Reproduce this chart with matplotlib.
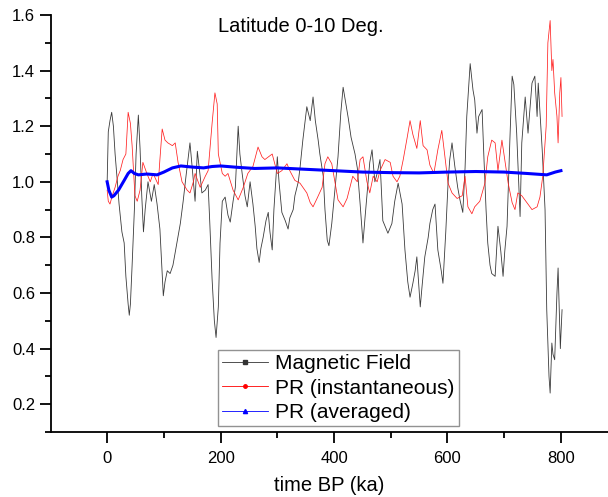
import matplotlib
matplotlib.use('Agg')
import matplotlib.pyplot as plt
from matplotlib.ticker import MultipleLocator
from matplotlib.lines import Line2D

plt.rcParams['font.family'] = ['Liberation Sans', 'DejaVu Sans']

# magnetic field
mf_t = [0, 2, 5, 8, 11, 14, 18, 21, 26, 30, 33, 37, 39, 41, 44, 48, 51, 55, 58, 61,
        64, 67, 72, 78, 83, 88, 93, 99, 102, 106, 111, 116, 123, 129, 134, 139, 146, 150, 155, 159,
        164, 167, 173, 178, 181, 185, 189, 192, 196, 199, 203, 208, 213, 217, 222, 226, 231, 234, 238, 243,
        247, 252, 257, 261, 264, 268, 271, 275, 280, 284, 287, 291, 294, 300, 303, 308, 314, 319, 322, 328,
        331, 337, 340, 345, 352, 358, 363, 367, 372, 375, 381, 384, 388, 391, 396, 402, 407, 412, 416, 421,
        425, 430, 434, 437, 441, 446, 451, 455, 460, 463, 467, 472, 476, 481, 486, 490, 495, 502, 507, 513,
        520, 525, 530, 534, 539, 543, 546, 552, 555, 560, 566, 569, 574, 578, 583, 589, 592, 597, 601, 604,
        608, 613, 618, 622, 627, 631, 634, 640, 645, 648, 652, 655, 661, 664, 668, 671, 675, 678, 684, 689,
        694, 698, 701, 705, 710, 714, 717, 722, 728, 731, 737, 742, 749, 754, 758, 760, 763, 767, 772, 775,
        779, 781, 784, 786, 789, 793, 795, 797, 799, 800, 802]
mf_v = [1.0, 1.18, 1.22, 1.25, 1.20, 1.10, 1.0, 0.92, 0.82, 0.78, 0.66, 0.56, 0.52, 0.56, 0.70, 0.90, 1.10, 1.24, 1.12, 0.95,
        0.82, 0.90, 1.00, 0.93, 0.99, 0.92, 0.83, 0.59, 0.64, 0.68, 0.67, 0.70, 0.78, 0.85, 0.93, 1.02, 1.14, 1.05, 0.93, 1.11,
        1.02, 0.96, 0.97, 0.99, 0.85, 0.65, 0.50, 0.44, 0.55, 0.78, 0.93, 0.945, 0.88, 0.855, 0.93, 0.98, 1.20, 1.10, 1.03, 0.95,
        0.91, 1.0, 0.92, 0.84, 0.76, 0.71, 0.76, 0.80, 0.86, 0.89, 0.82, 0.755, 0.90, 1.09, 1.0, 0.89, 0.86, 0.83, 0.87, 0.90,
        0.95, 1.00, 1.05, 1.15, 1.27, 1.22, 1.305, 1.22, 1.15, 1.10, 1.02, 0.90, 0.79, 0.77, 0.85, 0.98, 1.09, 1.25, 1.34, 1.28,
        1.23, 1.16, 1.125, 1.10, 1.05, 0.92, 0.78, 0.88, 1.0, 1.07, 1.115, 1.0, 1.03, 1.08, 0.86, 0.84, 0.815, 0.85, 0.93, 0.995,
        0.92, 0.755, 0.64, 0.585, 0.635, 0.68, 0.73, 0.55, 0.62, 0.73, 0.80, 0.85, 0.90, 0.92, 0.755, 0.68, 0.635, 0.82, 0.995, 1.08,
        1.14, 1.055, 0.98, 0.935, 0.89, 1.05, 1.235, 1.425, 1.33, 1.295, 1.175, 1.235, 1.26, 1.10, 0.90, 0.78, 0.70, 0.67, 0.66, 0.84,
        0.75, 0.66, 0.75, 0.84, 1.15, 1.38, 1.35, 1.175, 0.875, 1.14, 1.305, 1.175, 1.355, 1.38, 1.235, 1.355, 1.25, 1.115, 0.90, 0.54,
        0.30, 0.24, 0.42, 0.38, 0.36, 0.60, 0.69, 0.55, 0.40, 0.45, 0.54]

# PR instantaneous
pr_t = [0, 2, 5, 9, 14, 19, 23, 28, 33, 37, 41, 44, 49, 53, 58, 63, 70, 76, 81, 90,
        93, 97, 102, 107, 115, 120, 125, 132, 141, 146, 152, 155, 164, 173, 178, 185, 190, 194, 196, 203,
        208, 213, 222, 231, 240, 248, 257, 266, 273, 278, 291, 300, 308, 317, 322, 331, 340, 352, 358, 363,
        370, 379, 384, 389, 396, 402, 407, 416, 423, 428, 433, 441, 446, 451, 458, 463, 469, 476, 481, 490,
        499, 504, 511, 516, 522, 529, 534, 539, 546, 552, 557, 564, 569, 576, 583, 590, 596, 601, 608, 617,
        626, 631, 636, 643, 648, 657, 666, 671, 678, 684, 689, 696, 701, 707, 714, 719, 724, 731, 740, 749,
        758, 763, 768, 774, 777, 781, 784, 786, 789, 793, 795, 798, 800, 802]
pr_v = [0.97, 0.93, 0.92, 0.95, 0.98, 1.02, 1.04, 1.08, 1.10, 1.25, 1.21, 1.13, 0.95, 0.93, 0.97, 1.07, 1.03, 1.0, 1.03, 0.99,
        1.08, 1.19, 1.15, 1.14, 1.13, 1.14, 1.07, 1.0, 0.97, 0.96, 1.0, 1.03, 0.98, 1.02, 1.04, 1.21, 1.32, 1.28, 1.10, 1.03,
        1.02, 1.03, 0.97, 0.935, 0.98, 1.03, 1.055, 1.125, 1.09, 1.08, 1.10, 1.03, 1.04, 1.065, 1.04, 1.005, 0.995, 0.96, 0.925, 0.91,
        0.94, 0.98, 1.065, 1.09, 1.065, 0.995, 0.935, 0.91, 0.94, 0.98, 1.02, 1.0, 1.08, 1.09, 1.0, 0.96, 1.02, 1.0, 1.04, 1.08,
        1.07, 1.02, 1.0, 1.02, 1.08, 1.16, 1.22, 1.17, 1.12, 1.22, 1.13, 1.115, 1.06, 1.03, 1.115, 1.185, 1.08, 0.995, 0.96, 0.94,
        0.95, 1.02, 0.91, 0.885, 0.91, 0.93, 0.995, 1.09, 1.15, 1.14, 1.04, 1.15, 1.08, 0.995, 0.925, 0.90, 0.96, 0.95, 0.925, 0.90,
        0.91, 0.945, 1.02, 1.20, 1.50, 1.58, 1.40, 1.44, 1.32, 1.235, 1.14, 1.32, 1.375, 1.235]

# PR averaged
av_t = [0, 3, 8, 12, 20, 30, 37, 42, 48, 55, 70, 88, 100, 115, 130, 150, 170, 185, 200, 230,
        260, 300, 350, 400, 450, 500, 550, 600, 650, 700, 740, 775, 790, 800]
av_v = [1.0, 0.97, 0.945, 0.95, 0.97, 1.005, 1.03, 1.04, 1.03, 1.025, 1.028, 1.025, 1.035, 1.05, 1.057, 1.053, 1.05, 1.055, 1.057, 1.052,
        1.048, 1.05, 1.045, 1.04, 1.035, 1.033, 1.032, 1.035, 1.037, 1.035, 1.03, 1.025, 1.035, 1.04]

fig = plt.figure(figsize=(6.08, 4.97), dpi=100)
ax = fig.add_axes([51/608, 1-432/497, 1-51/608, (432-15)/497])

ax.plot(mf_t, mf_v, color='#3a3a3a', lw=0.6)
ax.plot(pr_t, pr_v, color='#ff2020', lw=0.55)
ax.plot(av_t, av_v, color='blue', lw=2.2)

ax.set_xlim(-99, 883)
ax.set_ylim(0.1, 1.6)
ax.xaxis.set_minor_locator(MultipleLocator(100))
ax.yaxis.set_minor_locator(MultipleLocator(0.1))
ax.set_yticks([0.2, 0.4, 0.6, 0.8, 1.0, 1.2, 1.4, 1.6])
ax.set_yticklabels(['0.2', '0.4', '0.6', '0.8', '1.0', '1.2', '1.4', '1.6'])
ax.set_xticks([0, 200, 400, 600, 800])

for s in ['top', 'right']:
    ax.spines[s].set_visible(False)
for s in ['left', 'bottom']:
    ax.spines[s].set_linewidth(1.3)
ax.tick_params(which='major', direction='out', length=8, width=1.3, labelsize=12)
ax.tick_params(which='minor', direction='out', length=4, width=1.3)
ax.tick_params(axis='x', pad=6)

ax.set_xlabel('time BP (ka)', fontsize=14.5, labelpad=7)
fig.text(301/608, 1-27/497, 'Latitude 0-10 Deg.', ha='center', va='center', fontsize=14.5)

handles = [
    Line2D([], [], color='#333333', lw=0.6, marker='s', markersize=2.5),
    Line2D([], [], color='red', lw=0.6, marker='o', markersize=2.5),
    Line2D([], [], color='blue', lw=0.6, marker='^', markersize=3),
]
leg = fig.legend(handles, ['Magnetic Field', 'PR (instantaneous)', 'PR (averaged)'],
                 loc='lower left', bbox_to_anchor=(218/608, 1-426/497),
                 fontsize=15, frameon=True, fancybox=False, borderpad=0.2,
                 labelspacing=0.25, handlelength=2.2, handletextpad=0.35, borderaxespad=0)
leg.get_frame().set_edgecolor('#777777')
leg.get_frame().set_linewidth(1.0)

fig.savefig('out.png', dpi=100)
